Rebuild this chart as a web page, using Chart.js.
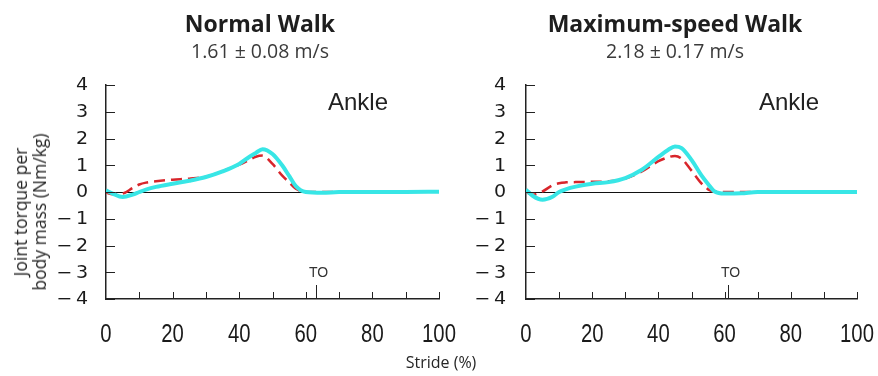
<!DOCTYPE html>
<html>
<head>
<meta charset="utf-8">
<script src="https://cdn.jsdelivr.net/npm/chart.js@4.4.1/dist/chart.umd.min.js"></script>
<style>
  html, body { margin: 0; padding: 0; background: #fff; }
  #wrap { position: relative; width: 878px; height: 376px; overflow: hidden; background: #fff; }
  canvas { position: absolute; top: 0; }
  .t { position: absolute; white-space: nowrap; color: #222; }
  .title { font-family: 'Open Sans', sans-serif; font-weight: 700; font-size: 23px; line-height: 28px; text-align: center; width: 360px; color: #1e1e1e; }
  .sub { font-family: 'Open Sans', sans-serif; font-weight: 400; font-size: 19.5px; line-height: 24px; color: #3a3a3a; text-align: center; width: 360px; }
  .ankle { font-family: 'Liberation Sans', Arial, sans-serif; font-size: 24px; color: #222; }
  .ytitle { font-family: 'Open Sans', sans-serif; font-size: 17.5px; color: #262626; line-height: 19px; text-align: center;
            transform: translate(-50%, -50%) rotate(-90deg); }
  .xtitle { font-family: 'Open Sans', sans-serif; font-size: 16px; color: #262626; transform: translateX(-50%); }
</style>
</head>
<body>
<div id="wrap">
  <canvas id="normal" width="460" height="376" style="left:0"></canvas>
  <canvas id="maxspeed" width="438" height="376" style="left:440px"></canvas>

  <div class="t title" style="left:80px; top:9px;">Normal Walk</div>
  <div class="t sub" style="left:80px; top:39px;">1.61 ± 0.08 m/s</div>
  <div class="t title" style="left:495px; top:9px;">Maximum-speed Walk</div>
  <div class="t sub" style="left:495px; top:39px;">2.18 ± 0.17 m/s</div>

  <div class="t ankle" style="left:328px; top:88px;">Ankle</div>
  <div class="t ankle" style="left:759px; top:88px;">Ankle</div>

  <div class="t ytitle" style="left:30px; top:212px;">Joint torque per<br>body mass (Nm/kg)</div>
  <div class="t xtitle" style="left:441px; top:351px;">Stride (%)</div>
</div>
<script>
// Stride positions (% of gait cycle) shared by every curve
const stride = [0, 2, 5, 8, 10, 12, 15, 20, 25, 30, 35, 40, 43, 45, 47, 50, 53, 55, 57, 60, 65, 70, 80, 90, 100];

// Ankle joint torque per body mass (Nm/kg), normal walk
const normalSolid  = [0.06, -0.06, -0.19, -0.10, 0.00, 0.09, 0.19, 0.31, 0.42, 0.56, 0.77, 1.05, 1.31, 1.46, 1.60, 1.42, 0.98, 0.60, 0.22, 0.00, -0.03, 0.00, 0.00, 0.00, 0.01];
const normalDashed = [-0.02, -0.08, -0.06, 0.15, 0.28, 0.35, 0.40, 0.46, 0.50, 0.57, 0.78, 1.02, 1.20, 1.32, 1.36, 1.05, 0.60, 0.36, 0.12, 0.00, 0.00, 0.00, 0.00, 0.02, 0.03];

// Ankle joint torque per body mass (Nm/kg), maximum-speed walk
const maxSolid  = [0.09, -0.14, -0.29, -0.18, 0.00, 0.10, 0.20, 0.31, 0.37, 0.52, 0.83, 1.31, 1.58, 1.70, 1.64, 1.20, 0.62, 0.30, 0.02, -0.06, -0.05, 0.00, 0.00, 0.00, 0.00];
const maxDashed = [0.00, -0.10, 0.02, 0.25, 0.33, 0.36, 0.37, 0.38, 0.40, 0.50, 0.77, 1.15, 1.30, 1.35, 1.25, 0.80, 0.32, 0.10, 0.01, 0.00, 0.00, 0.00, 0.00, 0.01, 0.01];

// Toe-off (% stride)
const toeOffNormal = 63;
const toeOffMax = 61;

const yTicks = [-4, -3, -2, -1, 0, 1, 2, 3, 4];
const xTickLabels = [0, 20, 40, 60, 80, 100];
const xMinorTicks = [10, 20, 30, 40, 50, 60, 70, 80, 90, 100];

const SOLID_COLOR = '#38e6e6';
const DASH_COLOR = '#d8252b';

function pts(xs, ys) { return xs.map((x, i) => ({ x: x, y: ys[i] })); }

// Draws a label squeezed or stretched horizontally around its anchor
function drawScaledText(ctx, text, x, y, sx, align) {
  ctx.save();
  ctx.translate(x, y);
  ctx.scale(sx, 1);
  ctx.textAlign = align;
  ctx.fillText(text, 0, 0);
  ctx.restore();
}

// Axis labels, inward tick marks and the toe-off marker
const axisDecor = {
  id: 'axisDecor',
  afterDraw(chart, args, opts) {
    const { ctx, chartArea: a, scales: { x, y } } = chart;
    ctx.save();
    ctx.strokeStyle = '#222';
    ctx.lineWidth = 1;
    ctx.beginPath();
    yTicks.forEach(v => {
      const py = Math.round(y.getPixelForValue(v)) + 0.5;
      ctx.moveTo(a.left, py); ctx.lineTo(a.left + 9, py);
    });
    xMinorTicks.forEach(v => {
      const px = Math.round(x.getPixelForValue(v)) + 0.5;
      ctx.moveTo(px, a.bottom); ctx.lineTo(px, a.bottom - 7);
    });
    const tx = Math.round(x.getPixelForValue(opts.toeOff)) + 0.5;
    ctx.moveTo(tx, a.bottom); ctx.lineTo(tx, a.bottom - 14);
    ctx.stroke();

    ctx.fillStyle = '#333';
    ctx.font = '14px "Liberation Sans", Arial, sans-serif';
    ctx.textAlign = 'center';
    ctx.textBaseline = 'middle';
    ctx.fillText('TO', tx + 2, a.bottom - 26);

    // y tick labels
    ctx.fillStyle = '#1a1a1a';
    ctx.textBaseline = 'middle';
    ctx.font = '17px "DejaVu Sans", sans-serif';
    yTicks.forEach(v => {
      const label = v < 0 ? '\u2212\u2009' + Math.abs(v) : String(v);
      drawScaledText(ctx, label, a.left - opts.yGap, y.getPixelForValue(v) + 1, 1.12, 'right');
    });

    // x tick labels
    ctx.textBaseline = 'alphabetic';
    ctx.font = '26px "Liberation Sans", Arial, sans-serif';
    xTickLabels.forEach(v => {
      drawScaledText(ctx, String(v), x.getPixelForValue(v), 342, 0.78, 'center');
    });
    ctx.restore();
  }
};

function makeChart(id, solid, dashed, toeOff, axisWidth, padRight, yGap) {
  return new Chart(document.getElementById(id), {
    type: 'line',
    data: {
      datasets: [
        {
          data: pts(stride, dashed),
          borderColor: DASH_COLOR,
          borderWidth: 2.5,
          borderDash: [11, 6],
          pointRadius: 0,
          cubicInterpolationMode: 'monotone',
          fill: false,
          order: 2
        },
        {
          data: pts(stride, solid),
          borderColor: SOLID_COLOR,
          borderWidth: 4,
          pointRadius: 0,
          cubicInterpolationMode: 'monotone',
          fill: false,
          order: 1
        }
      ]
    },
    options: {
      responsive: false,
      animation: false,
      events: [],
      layout: { autoPadding: false, padding: { left: 0, right: padRight, top: 85, bottom: 27 } },
      plugins: {
        legend: { display: false },
        tooltip: { enabled: false },
        axisDecor: { toeOff: toeOff, yGap: yGap }
      },
      scales: {
        x: {
          type: 'linear', min: 0, max: 100,
          afterBuildTicks: s => { s.ticks = xTickLabels.map(v => ({ value: v })); },
          ticks: { display: false },
          grid: { display: false, drawTicks: false },
          border: { display: true, color: '#222', width: 1.5 },
          afterFit: s => { s.height = 50; s.paddingLeft = 0; s.paddingRight = 0; }
        },
        y: {
          min: -4, max: 4,
          afterBuildTicks: s => { s.ticks = yTicks.map(v => ({ value: v })); },
          ticks: { display: false },
          grid: {
            drawTicks: false,
            color: c => (c.tick && c.tick.value === 0 ? '#111' : 'rgba(0,0,0,0)'),
            lineWidth: 1
          },
          border: { display: true, color: '#222', width: 1.5 },
          afterFit: s => { s.width = axisWidth; s.paddingTop = 0; s.paddingBottom = 0; }
        }
      }
    },
    plugins: [axisDecor]
  });
}

makeChart('normal', normalSolid, normalDashed, toeOffNormal, 106, 21, 18);
makeChart('maxspeed', maxSolid, maxDashed, toeOffMax, 86, 21, 20);
</script>
</body>
</html>
